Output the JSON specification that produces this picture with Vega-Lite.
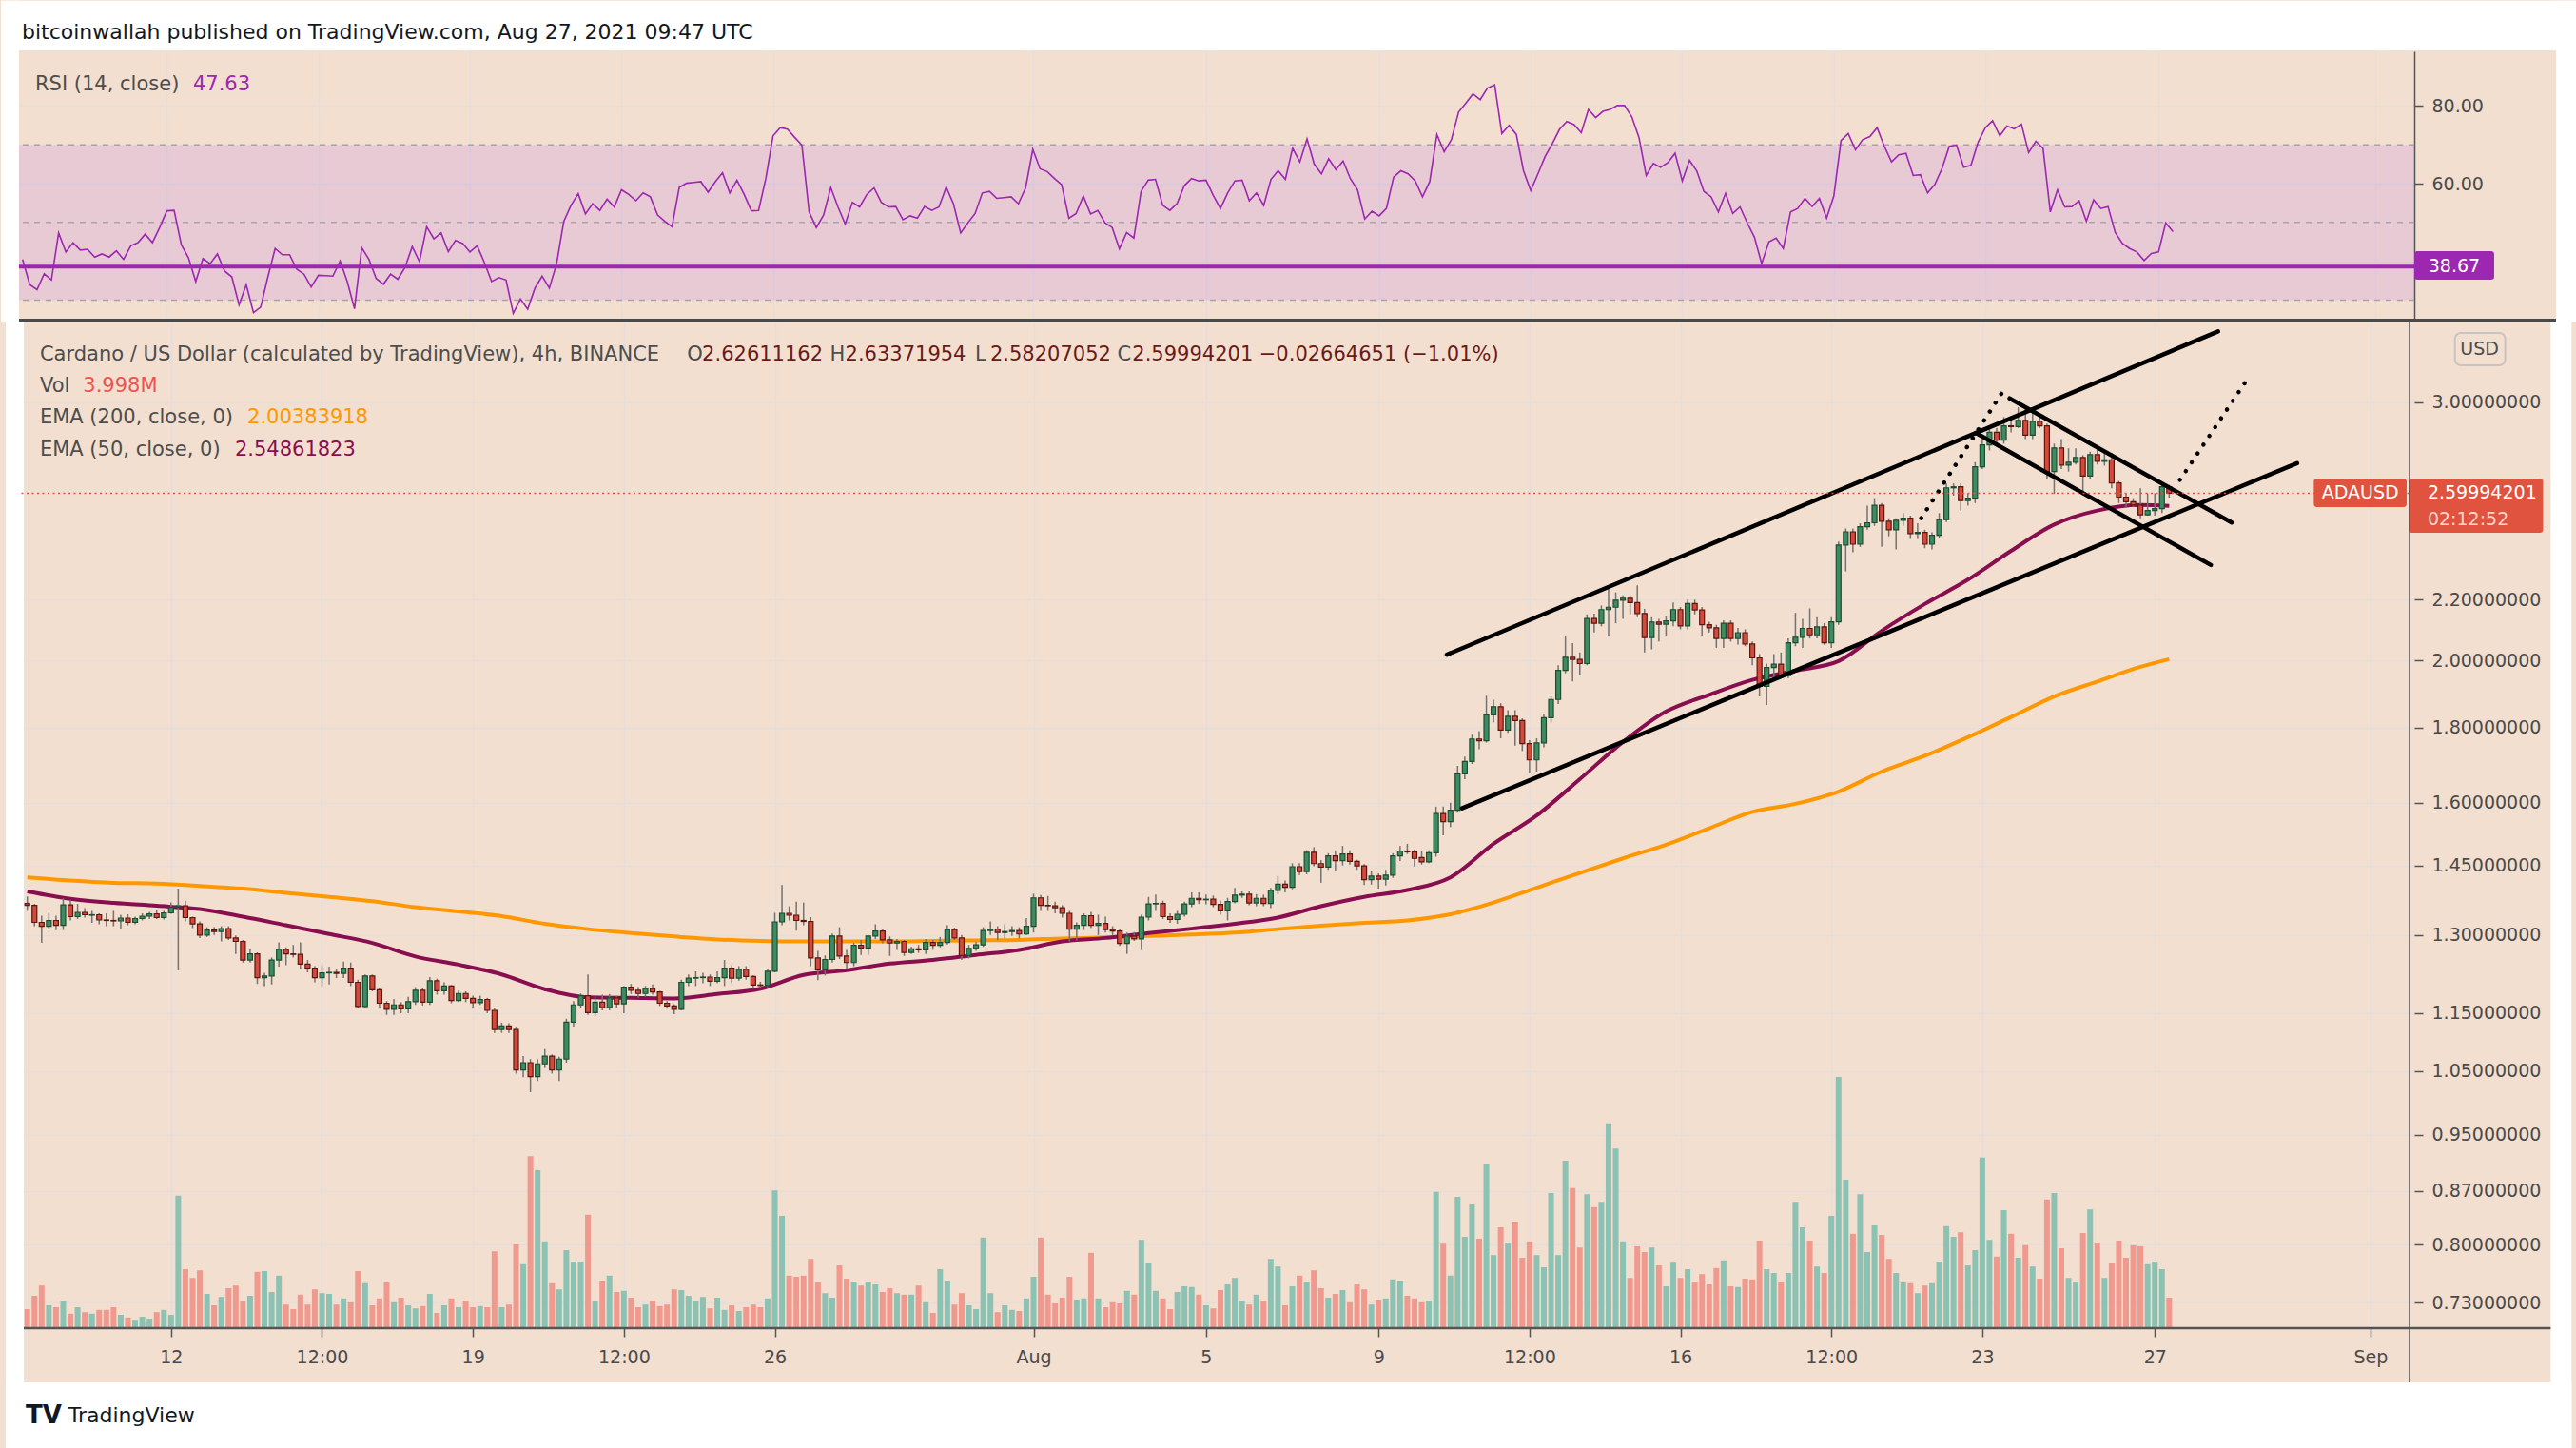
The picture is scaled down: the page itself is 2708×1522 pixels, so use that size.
{
"$schema":"https://vega.github.io/schema/vega-lite/v6.json",
"background":"#f2dfcf",
"padding":0,
"bounds":"flush",
"spacing":3,
"config":{
 "view":{"stroke":null},
 "font":"DejaVu Sans",
 "axis":{"labelFont":"DejaVu Sans","labelFontSize":19,"labelColor":"#4a4a4a","gridColor":"#e6ddda","gridWidth":1.5,"tickColor":"#555555","tickWidth":1.5,"tickSize":9,"domainColor":"#555555"},
 "text":{"font":"DejaVu Sans","fontSize":21,"baseline":"middle","align":"left","color":"#4d4d4d"}
},
"datasets":{
"k":[
{"i":4,"o":1.366,"h":1.381,"l":1.35,"c":1.362,"v":2.5,"r":40.5},
{"i":5,"o":1.362,"h":1.365,"l":1.318,"c":1.326,"v":4.25,"r":34.0},
{"i":6,"o":1.326,"h":1.34,"l":1.284,"c":1.318,"v":5.6,"r":32.7},
{"i":7,"o":1.318,"h":1.346,"l":1.312,"c":1.33,"v":3.0,"r":36.8},
{"i":8,"o":1.33,"h":1.34,"l":1.31,"c":1.32,"v":2.75,"r":35.2},
{"i":9,"o":1.32,"h":1.377,"l":1.31,"c":1.363,"v":3.6,"r":47.3},
{"i":10,"o":1.363,"h":1.372,"l":1.33,"c":1.338,"v":1.9,"r":42.4},
{"i":11,"o":1.338,"h":1.365,"l":1.333,"c":1.347,"v":2.75,"r":44.8},
{"i":12,"o":1.347,"h":1.356,"l":1.336,"c":1.342,"v":2.1,"r":42.9},
{"i":13,"o":1.341,"h":1.35,"l":1.325,"c":1.342,"v":1.9,"r":43.1},
{"i":14,"o":1.342,"h":1.345,"l":1.322,"c":1.331,"v":2.4,"r":41.1},
{"i":15,"o":1.331,"h":1.345,"l":1.318,"c":1.33,"v":2.4,"r":41.9},
{"i":16,"o":1.33,"h":1.35,"l":1.318,"c":1.329,"v":2.75,"r":41.1},
{"i":17,"o":1.329,"h":1.342,"l":1.313,"c":1.335,"v":1.75,"r":42.7},
{"i":18,"o":1.335,"h":1.343,"l":1.32,"c":1.326,"v":1.4,"r":40.5},
{"i":19,"o":1.326,"h":1.338,"l":1.322,"c":1.334,"v":1.1,"r":44.0},
{"i":20,"o":1.334,"h":1.345,"l":1.33,"c":1.339,"v":1.5,"r":44.8},
{"i":21,"o":1.339,"h":1.348,"l":1.333,"c":1.344,"v":1.25,"r":47.0},
{"i":22,"o":1.344,"h":1.353,"l":1.333,"c":1.336,"v":2.1,"r":44.8},
{"i":23,"o":1.336,"h":1.35,"l":1.332,"c":1.346,"v":2.4,"r":48.7},
{"i":24,"o":1.346,"h":1.368,"l":1.344,"c":1.358,"v":1.75,"r":53.0},
{"i":25,"o":1.358,"h":1.398,"l":1.23,"c":1.361,"v":17.4,"r":53.1},
{"i":26,"o":1.361,"h":1.372,"l":1.328,"c":1.336,"v":7.75,"r":44.3},
{"i":27,"o":1.336,"h":1.338,"l":1.314,"c":1.323,"v":6.6,"r":40.9},
{"i":28,"o":1.323,"h":1.328,"l":1.294,"c":1.3,"v":7.6,"r":34.8},
{"i":29,"o":1.3,"h":1.316,"l":1.296,"c":1.31,"v":4.5,"r":40.7},
{"i":30,"o":1.31,"h":1.316,"l":1.3,"c":1.307,"v":3.0,"r":39.4},
{"i":31,"o":1.307,"h":1.318,"l":1.287,"c":1.313,"v":4.1,"r":41.9},
{"i":32,"o":1.313,"h":1.318,"l":1.29,"c":1.294,"v":5.25,"r":37.5},
{"i":33,"o":1.294,"h":1.299,"l":1.262,"c":1.287,"v":5.6,"r":36.0},
{"i":34,"o":1.287,"h":1.29,"l":1.245,"c":1.25,"v":3.5,"r":28.8},
{"i":35,"o":1.25,"h":1.271,"l":1.245,"c":1.262,"v":4.25,"r":34.0},
{"i":36,"o":1.262,"h":1.265,"l":1.204,"c":1.216,"v":7.4,"r":26.8},
{"i":37,"o":1.216,"h":1.225,"l":1.2,"c":1.219,"v":7.5,"r":28.2},
{"i":38,"o":1.219,"h":1.255,"l":1.203,"c":1.25,"v":4.75,"r":36.0},
{"i":39,"o":1.25,"h":1.285,"l":1.237,"c":1.271,"v":6.9,"r":43.3},
{"i":40,"o":1.271,"h":1.275,"l":1.24,"c":1.262,"v":3.1,"r":41.7},
{"i":41,"o":1.262,"h":1.28,"l":1.255,"c":1.261,"v":2.5,"r":41.7},
{"i":42,"o":1.261,"h":1.285,"l":1.232,"c":1.242,"v":4.4,"r":38.0},
{"i":43,"o":1.242,"h":1.25,"l":1.226,"c":1.234,"v":3.1,"r":36.7},
{"i":44,"o":1.234,"h":1.238,"l":1.207,"c":1.216,"v":5.1,"r":33.4},
{"i":45,"o":1.216,"h":1.24,"l":1.2,"c":1.225,"v":4.6,"r":36.4},
{"i":46,"o":1.225,"h":1.237,"l":1.203,"c":1.226,"v":4.5,"r":36.3},
{"i":47,"o":1.226,"h":1.233,"l":1.215,"c":1.224,"v":3.1,"r":36.2},
{"i":48,"o":1.224,"h":1.247,"l":1.215,"c":1.234,"v":3.9,"r":40.1},
{"i":49,"o":1.234,"h":1.245,"l":1.2,"c":1.207,"v":3.4,"r":34.8},
{"i":50,"o":1.207,"h":1.212,"l":1.16,"c":1.162,"v":7.5,"r":27.8},
{"i":51,"o":1.162,"h":1.222,"l":1.16,"c":1.219,"v":5.9,"r":43.5},
{"i":52,"o":1.219,"h":1.222,"l":1.19,"c":1.193,"v":3.0,"r":40.5},
{"i":53,"o":1.193,"h":1.197,"l":1.16,"c":1.168,"v":3.9,"r":35.6},
{"i":54,"o":1.168,"h":1.172,"l":1.147,"c":1.157,"v":6.0,"r":34.1},
{"i":55,"o":1.157,"h":1.176,"l":1.147,"c":1.165,"v":3.4,"r":36.7},
{"i":56,"o":1.165,"h":1.17,"l":1.15,"c":1.158,"v":4.0,"r":35.4},
{"i":57,"o":1.158,"h":1.18,"l":1.15,"c":1.171,"v":3.0,"r":38.4},
{"i":58,"o":1.171,"h":1.198,"l":1.165,"c":1.192,"v":2.6,"r":43.8},
{"i":59,"o":1.192,"h":1.196,"l":1.164,"c":1.17,"v":2.9,"r":39.9},
{"i":60,"o":1.17,"h":1.217,"l":1.165,"c":1.21,"v":4.5,"r":48.9},
{"i":61,"o":1.21,"h":1.214,"l":1.184,"c":1.191,"v":2.0,"r":45.8},
{"i":62,"o":1.191,"h":1.207,"l":1.184,"c":1.2,"v":3.0,"r":47.3},
{"i":63,"o":1.2,"h":1.202,"l":1.168,"c":1.173,"v":3.9,"r":42.5},
{"i":64,"o":1.173,"h":1.192,"l":1.17,"c":1.186,"v":2.75,"r":45.4},
{"i":65,"o":1.186,"h":1.19,"l":1.17,"c":1.177,"v":3.6,"r":44.6},
{"i":66,"o":1.177,"h":1.182,"l":1.16,"c":1.169,"v":2.75,"r":42.4},
{"i":67,"o":1.169,"h":1.182,"l":1.165,"c":1.175,"v":2.9,"r":44.0},
{"i":68,"o":1.175,"h":1.178,"l":1.15,"c":1.155,"v":2.75,"r":39.7},
{"i":69,"o":1.155,"h":1.16,"l":1.115,"c":1.121,"v":10.1,"r":34.8},
{"i":70,"o":1.121,"h":1.133,"l":1.115,"c":1.127,"v":2.75,"r":35.8},
{"i":71,"o":1.127,"h":1.132,"l":1.115,"c":1.121,"v":3.1,"r":35.2},
{"i":72,"o":1.121,"h":1.124,"l":1.046,"c":1.052,"v":11.0,"r":26.6},
{"i":73,"o":1.052,"h":1.075,"l":1.04,"c":1.064,"v":8.4,"r":30.3},
{"i":74,"o":1.064,"h":1.07,"l":1.016,"c":1.041,"v":22.6,"r":27.7},
{"i":75,"o":1.041,"h":1.07,"l":1.034,"c":1.062,"v":20.75,"r":33.1},
{"i":76,"o":1.062,"h":1.087,"l":1.055,"c":1.075,"v":11.4,"r":36.2},
{"i":77,"o":1.075,"h":1.078,"l":1.046,"c":1.052,"v":5.9,"r":33.1},
{"i":78,"o":1.052,"h":1.074,"l":1.034,"c":1.07,"v":5.1,"r":39.3},
{"i":79,"o":1.07,"h":1.14,"l":1.064,"c":1.134,"v":10.25,"r":50.3},
{"i":80,"o":1.134,"h":1.172,"l":1.125,"c":1.165,"v":8.75,"r":54.4},
{"i":81,"o":1.165,"h":1.186,"l":1.16,"c":1.182,"v":8.75,"r":57.4},
{"i":82,"o":1.182,"h":1.222,"l":1.147,"c":1.151,"v":14.9,"r":52.2},
{"i":83,"o":1.151,"h":1.18,"l":1.145,"c":1.17,"v":3.5,"r":54.8},
{"i":84,"o":1.17,"h":1.184,"l":1.155,"c":1.16,"v":6.25,"r":53.1},
{"i":85,"o":1.16,"h":1.185,"l":1.155,"c":1.178,"v":6.9,"r":56.0},
{"i":86,"o":1.178,"h":1.182,"l":1.16,"c":1.167,"v":4.75,"r":54.0},
{"i":87,"o":1.167,"h":1.2,"l":1.15,"c":1.198,"v":4.9,"r":58.4},
{"i":88,"o":1.198,"h":1.204,"l":1.185,"c":1.192,"v":4.0,"r":57.2},
{"i":89,"o":1.192,"h":1.198,"l":1.178,"c":1.186,"v":2.75,"r":55.6},
{"i":90,"o":1.186,"h":1.2,"l":1.18,"c":1.195,"v":3.1,"r":57.6},
{"i":91,"o":1.195,"h":1.203,"l":1.184,"c":1.189,"v":3.6,"r":56.6},
{"i":92,"o":1.189,"h":1.191,"l":1.163,"c":1.168,"v":2.9,"r":51.9},
{"i":93,"o":1.168,"h":1.172,"l":1.158,"c":1.163,"v":3.1,"r":50.3},
{"i":94,"o":1.163,"h":1.166,"l":1.148,"c":1.157,"v":5.1,"r":48.9},
{"i":95,"o":1.157,"h":1.212,"l":1.155,"c":1.207,"v":5.0,"r":59.0},
{"i":96,"o":1.207,"h":1.222,"l":1.2,"c":1.215,"v":4.25,"r":60.1},
{"i":97,"o":1.215,"h":1.228,"l":1.2,"c":1.216,"v":3.5,"r":60.3},
{"i":98,"o":1.216,"h":1.225,"l":1.205,"c":1.217,"v":4.1,"r":60.5},
{"i":99,"o":1.217,"h":1.222,"l":1.2,"c":1.209,"v":2.6,"r":57.8},
{"i":100,"o":1.209,"h":1.228,"l":1.205,"c":1.216,"v":4.0,"r":60.5},
{"i":101,"o":1.216,"h":1.25,"l":1.2,"c":1.234,"v":2.4,"r":62.8},
{"i":102,"o":1.234,"h":1.24,"l":1.205,"c":1.215,"v":3.0,"r":57.6},
{"i":103,"o":1.215,"h":1.238,"l":1.21,"c":1.232,"v":2.25,"r":60.9},
{"i":104,"o":1.232,"h":1.238,"l":1.212,"c":1.218,"v":2.75,"r":57.2},
{"i":105,"o":1.218,"h":1.22,"l":1.195,"c":1.202,"v":3.1,"r":53.0},
{"i":106,"o":1.202,"h":1.208,"l":1.196,"c":1.201,"v":2.75,"r":53.1},
{"i":107,"o":1.201,"h":1.232,"l":1.198,"c":1.228,"v":3.9,"r":61.3},
{"i":108,"o":1.228,"h":1.346,"l":1.226,"c":1.327,"v":18.1,"r":72.3},
{"i":109,"o":1.327,"h":1.406,"l":1.32,"c":1.345,"v":14.75,"r":74.4},
{"i":110,"o":1.345,"h":1.36,"l":1.33,"c":1.341,"v":6.9,"r":74.0},
{"i":111,"o":1.341,"h":1.37,"l":1.309,"c":1.33,"v":6.75,"r":71.9},
{"i":112,"o":1.33,"h":1.368,"l":1.32,"c":1.328,"v":6.9,"r":69.9},
{"i":113,"o":1.328,"h":1.337,"l":1.238,"c":1.254,"v":9.1,"r":52.7},
{"i":114,"o":1.254,"h":1.268,"l":1.211,"c":1.231,"v":6.0,"r":48.7},
{"i":115,"o":1.231,"h":1.259,"l":1.22,"c":1.251,"v":4.6,"r":51.9},
{"i":116,"o":1.251,"h":1.303,"l":1.245,"c":1.298,"v":4.0,"r":59.0},
{"i":117,"o":1.298,"h":1.316,"l":1.252,"c":1.258,"v":8.25,"r":54.0},
{"i":118,"o":1.258,"h":1.27,"l":1.232,"c":1.245,"v":6.5,"r":49.6},
{"i":119,"o":1.245,"h":1.284,"l":1.238,"c":1.279,"v":6.1,"r":55.2},
{"i":120,"o":1.279,"h":1.29,"l":1.26,"c":1.274,"v":5.6,"r":54.0},
{"i":121,"o":1.274,"h":1.3,"l":1.26,"c":1.298,"v":6.1,"r":57.2},
{"i":122,"o":1.298,"h":1.322,"l":1.292,"c":1.308,"v":5.75,"r":58.9},
{"i":123,"o":1.308,"h":1.312,"l":1.283,"c":1.29,"v":4.75,"r":55.2},
{"i":124,"o":1.29,"h":1.297,"l":1.258,"c":1.284,"v":5.25,"r":54.0},
{"i":125,"o":1.284,"h":1.292,"l":1.27,"c":1.287,"v":4.6,"r":54.1},
{"i":126,"o":1.287,"h":1.29,"l":1.258,"c":1.265,"v":4.4,"r":50.7},
{"i":127,"o":1.265,"h":1.276,"l":1.262,"c":1.272,"v":4.4,"r":51.7},
{"i":128,"o":1.272,"h":1.28,"l":1.264,"c":1.27,"v":5.6,"r":51.1},
{"i":129,"o":1.27,"h":1.292,"l":1.262,"c":1.285,"v":3.4,"r":54.1},
{"i":130,"o":1.285,"h":1.29,"l":1.27,"c":1.279,"v":2.0,"r":53.1},
{"i":131,"o":1.279,"h":1.296,"l":1.275,"c":1.285,"v":7.75,"r":54.0},
{"i":132,"o":1.285,"h":1.32,"l":1.281,"c":1.311,"v":6.25,"r":59.1},
{"i":133,"o":1.311,"h":1.315,"l":1.29,"c":1.294,"v":3.1,"r":54.8},
{"i":134,"o":1.294,"h":1.3,"l":1.25,"c":1.259,"v":4.6,"r":47.3},
{"i":135,"o":1.259,"h":1.28,"l":1.253,"c":1.273,"v":3.0,"r":49.9},
{"i":136,"o":1.273,"h":1.286,"l":1.268,"c":1.28,"v":2.5,"r":52.3},
{"i":137,"o":1.28,"h":1.316,"l":1.276,"c":1.309,"v":11.9,"r":57.6},
{"i":138,"o":1.309,"h":1.328,"l":1.3,"c":1.312,"v":4.6,"r":58.0},
{"i":139,"o":1.312,"h":1.318,"l":1.29,"c":1.305,"v":2.1,"r":56.2},
{"i":140,"o":1.305,"h":1.322,"l":1.293,"c":1.307,"v":3.0,"r":56.4},
{"i":141,"o":1.307,"h":1.318,"l":1.298,"c":1.309,"v":2.4,"r":56.6},
{"i":142,"o":1.309,"h":1.316,"l":1.293,"c":1.302,"v":2.25,"r":54.8},
{"i":143,"o":1.302,"h":1.335,"l":1.3,"c":1.318,"v":3.9,"r":58.9},
{"i":144,"o":1.318,"h":1.387,"l":1.305,"c":1.378,"v":6.75,"r":68.8},
{"i":145,"o":1.378,"h":1.384,"l":1.35,"c":1.362,"v":11.9,"r":63.8},
{"i":146,"o":1.362,"h":1.382,"l":1.35,"c":1.361,"v":4.4,"r":63.1},
{"i":147,"o":1.361,"h":1.37,"l":1.345,"c":1.357,"v":3.25,"r":61.3},
{"i":148,"o":1.357,"h":1.362,"l":1.336,"c":1.345,"v":4.0,"r":59.7},
{"i":149,"o":1.345,"h":1.35,"l":1.287,"c":1.312,"v":6.75,"r":51.1},
{"i":150,"o":1.312,"h":1.326,"l":1.289,"c":1.32,"v":3.75,"r":52.3},
{"i":151,"o":1.32,"h":1.345,"l":1.31,"c":1.34,"v":3.9,"r":56.8},
{"i":152,"o":1.34,"h":1.348,"l":1.314,"c":1.32,"v":9.9,"r":52.2},
{"i":153,"o":1.32,"h":1.342,"l":1.3,"c":1.324,"v":3.9,"r":53.1},
{"i":154,"o":1.324,"h":1.338,"l":1.305,"c":1.311,"v":2.75,"r":49.9},
{"i":155,"o":1.311,"h":1.318,"l":1.3,"c":1.308,"v":3.4,"r":48.7},
{"i":156,"o":1.308,"h":1.312,"l":1.278,"c":1.283,"v":3.25,"r":43.2},
{"i":157,"o":1.283,"h":1.305,"l":1.262,"c":1.298,"v":4.9,"r":47.4},
{"i":158,"o":1.298,"h":1.306,"l":1.288,"c":1.292,"v":4.4,"r":46.0},
{"i":159,"o":1.292,"h":1.342,"l":1.27,"c":1.337,"v":11.6,"r":58.0},
{"i":160,"o":1.337,"h":1.38,"l":1.33,"c":1.365,"v":8.5,"r":60.9},
{"i":161,"o":1.365,"h":1.385,"l":1.35,"c":1.366,"v":4.9,"r":61.1},
{"i":162,"o":1.366,"h":1.372,"l":1.333,"c":1.338,"v":3.9,"r":54.4},
{"i":163,"o":1.338,"h":1.345,"l":1.325,"c":1.332,"v":2.5,"r":53.1},
{"i":164,"o":1.332,"h":1.35,"l":1.323,"c":1.343,"v":4.75,"r":54.9},
{"i":165,"o":1.343,"h":1.37,"l":1.338,"c":1.365,"v":5.5,"r":59.5},
{"i":166,"o":1.365,"h":1.39,"l":1.358,"c":1.377,"v":5.4,"r":61.3},
{"i":167,"o":1.377,"h":1.39,"l":1.365,"c":1.374,"v":4.4,"r":60.7},
{"i":168,"o":1.374,"h":1.385,"l":1.364,"c":1.375,"v":3.0,"r":60.9},
{"i":169,"o":1.375,"h":1.383,"l":1.358,"c":1.364,"v":2.6,"r":57.0},
{"i":170,"o":1.364,"h":1.372,"l":1.342,"c":1.35,"v":5.0,"r":53.6},
{"i":171,"o":1.35,"h":1.378,"l":1.33,"c":1.37,"v":5.75,"r":57.6},
{"i":172,"o":1.37,"h":1.4,"l":1.366,"c":1.384,"v":6.6,"r":60.7},
{"i":173,"o":1.384,"h":1.392,"l":1.378,"c":1.386,"v":3.6,"r":60.9},
{"i":174,"o":1.386,"h":1.392,"l":1.362,"c":1.367,"v":3.1,"r":55.6},
{"i":175,"o":1.367,"h":1.386,"l":1.36,"c":1.377,"v":4.4,"r":57.6},
{"i":176,"o":1.377,"h":1.385,"l":1.36,"c":1.366,"v":3.6,"r":54.4},
{"i":177,"o":1.366,"h":1.4,"l":1.356,"c":1.394,"v":9.1,"r":61.1},
{"i":178,"o":1.394,"h":1.426,"l":1.386,"c":1.408,"v":8.1,"r":63.3},
{"i":179,"o":1.408,"h":1.416,"l":1.39,"c":1.401,"v":3.0,"r":61.1},
{"i":180,"o":1.401,"h":1.455,"l":1.397,"c":1.447,"v":5.5,"r":69.1},
{"i":181,"o":1.447,"h":1.455,"l":1.428,"c":1.436,"v":6.9,"r":65.6},
{"i":182,"o":1.436,"h":1.485,"l":1.43,"c":1.48,"v":6.1,"r":71.5},
{"i":183,"o":1.48,"h":1.492,"l":1.448,"c":1.454,"v":7.6,"r":65.0},
{"i":184,"o":1.454,"h":1.462,"l":1.411,"c":1.446,"v":5.25,"r":62.5},
{"i":185,"o":1.446,"h":1.478,"l":1.44,"c":1.472,"v":4.0,"r":66.4},
{"i":186,"o":1.472,"h":1.485,"l":1.438,"c":1.461,"v":4.5,"r":63.6},
{"i":187,"o":1.461,"h":1.495,"l":1.45,"c":1.476,"v":5.0,"r":65.8},
{"i":188,"o":1.476,"h":1.485,"l":1.452,"c":1.459,"v":3.4,"r":61.3},
{"i":189,"o":1.459,"h":1.463,"l":1.44,"c":1.449,"v":5.75,"r":58.4},
{"i":190,"o":1.449,"h":1.453,"l":1.406,"c":1.418,"v":5.1,"r":50.9},
{"i":191,"o":1.418,"h":1.438,"l":1.407,"c":1.426,"v":3.1,"r":52.9},
{"i":192,"o":1.426,"h":1.432,"l":1.398,"c":1.419,"v":3.75,"r":51.7},
{"i":193,"o":1.419,"h":1.44,"l":1.405,"c":1.428,"v":3.9,"r":53.6},
{"i":194,"o":1.428,"h":1.478,"l":1.422,"c":1.472,"v":6.4,"r":61.7},
{"i":195,"o":1.472,"h":1.495,"l":1.46,"c":1.483,"v":6.25,"r":63.3},
{"i":196,"o":1.483,"h":1.5,"l":1.476,"c":1.481,"v":4.25,"r":62.5},
{"i":197,"o":1.481,"h":1.487,"l":1.447,"c":1.466,"v":3.9,"r":60.7},
{"i":198,"o":1.468,"h":1.482,"l":1.452,"c":1.458,"v":3.4,"r":56.6},
{"i":199,"o":1.458,"h":1.485,"l":1.455,"c":1.479,"v":3.6,"r":60.5},
{"i":200,"o":1.479,"h":1.59,"l":1.47,"c":1.573,"v":17.9,"r":72.6},
{"i":201,"o":1.573,"h":1.59,"l":1.52,"c":1.553,"v":11.1,"r":68.2},
{"i":202,"o":1.553,"h":1.6,"l":1.54,"c":1.581,"v":6.9,"r":71.3},
{"i":203,"o":1.581,"h":1.695,"l":1.575,"c":1.674,"v":17.25,"r":78.4},
{"i":204,"o":1.674,"h":1.72,"l":1.66,"c":1.707,"v":12.0,"r":80.7},
{"i":205,"o":1.707,"h":1.78,"l":1.7,"c":1.768,"v":16.25,"r":83.1},
{"i":206,"o":1.768,"h":1.79,"l":1.74,"c":1.763,"v":11.75,"r":81.6},
{"i":207,"o":1.763,"h":1.892,"l":1.758,"c":1.836,"v":21.5,"r":84.6},
{"i":208,"o":1.836,"h":1.88,"l":1.815,"c":1.86,"v":9.6,"r":85.4},
{"i":209,"o":1.86,"h":1.87,"l":1.77,"c":1.793,"v":13.25,"r":72.9},
{"i":210,"o":1.793,"h":1.85,"l":1.785,"c":1.832,"v":11.25,"r":75.0},
{"i":211,"o":1.832,"h":1.85,"l":1.75,"c":1.82,"v":14.0,"r":72.7},
{"i":212,"o":1.82,"h":1.826,"l":1.735,"c":1.755,"v":9.25,"r":63.3},
{"i":213,"o":1.755,"h":1.765,"l":1.676,"c":1.711,"v":11.4,"r":58.2},
{"i":214,"o":1.711,"h":1.77,"l":1.68,"c":1.757,"v":9.6,"r":62.5},
{"i":215,"o":1.757,"h":1.84,"l":1.745,"c":1.828,"v":8.0,"r":67.0},
{"i":216,"o":1.828,"h":1.89,"l":1.815,"c":1.881,"v":17.75,"r":70.3},
{"i":217,"o":1.881,"h":1.985,"l":1.868,"c":1.969,"v":9.6,"r":74.0},
{"i":218,"o":1.969,"h":2.08,"l":1.96,"c":2.01,"v":22.0,"r":76.0},
{"i":219,"o":2.01,"h":2.055,"l":1.935,"c":2.003,"v":18.4,"r":75.2},
{"i":220,"o":2.003,"h":2.025,"l":1.955,"c":1.99,"v":10.6,"r":73.1},
{"i":221,"o":1.99,"h":2.15,"l":1.985,"c":2.136,"v":17.6,"r":79.1},
{"i":222,"o":2.136,"h":2.152,"l":2.09,"c":2.12,"v":15.9,"r":77.0},
{"i":223,"o":2.12,"h":2.18,"l":2.11,"c":2.166,"v":16.6,"r":78.6},
{"i":224,"o":2.166,"h":2.25,"l":2.08,"c":2.174,"v":26.9,"r":79.1},
{"i":225,"o":2.174,"h":2.225,"l":2.12,"c":2.198,"v":23.6,"r":80.1},
{"i":226,"o":2.198,"h":2.215,"l":2.135,"c":2.205,"v":11.4,"r":80.1},
{"i":227,"o":2.205,"h":2.215,"l":2.15,"c":2.19,"v":6.6,"r":77.2},
{"i":228,"o":2.19,"h":2.25,"l":2.14,"c":2.153,"v":10.75,"r":71.9},
{"i":229,"o":2.153,"h":2.168,"l":2.025,"c":2.073,"v":10.0,"r":62.1},
{"i":230,"o":2.073,"h":2.14,"l":2.035,"c":2.124,"v":10.6,"r":65.2},
{"i":231,"o":2.124,"h":2.135,"l":2.06,"c":2.117,"v":8.25,"r":64.2},
{"i":232,"o":2.117,"h":2.145,"l":2.08,"c":2.128,"v":5.5,"r":65.4},
{"i":233,"o":2.128,"h":2.19,"l":2.11,"c":2.166,"v":8.6,"r":67.8},
{"i":234,"o":2.166,"h":2.175,"l":2.1,"c":2.111,"v":6.6,"r":60.7},
{"i":235,"o":2.111,"h":2.2,"l":2.1,"c":2.187,"v":7.75,"r":66.0},
{"i":236,"o":2.187,"h":2.2,"l":2.15,"c":2.165,"v":6.1,"r":63.3},
{"i":237,"o":2.165,"h":2.175,"l":2.08,"c":2.115,"v":7.1,"r":58.0},
{"i":238,"o":2.115,"h":2.125,"l":2.09,"c":2.105,"v":5.75,"r":56.6},
{"i":239,"o":2.105,"h":2.115,"l":2.04,"c":2.07,"v":7.9,"r":52.7},
{"i":240,"o":2.07,"h":2.13,"l":2.04,"c":2.12,"v":8.9,"r":57.5},
{"i":241,"o":2.12,"h":2.13,"l":2.06,"c":2.07,"v":5.5,"r":52.3},
{"i":242,"o":2.07,"h":2.105,"l":2.05,"c":2.089,"v":5.4,"r":54.0},
{"i":243,"o":2.089,"h":2.1,"l":2.045,"c":2.052,"v":6.5,"r":49.9},
{"i":244,"o":2.052,"h":2.06,"l":1.985,"c":2.008,"v":6.4,"r":46.2},
{"i":245,"o":2.008,"h":2.02,"l":1.89,"c":1.92,"v":11.5,"r":39.4},
{"i":246,"o":1.92,"h":1.99,"l":1.865,"c":1.978,"v":7.75,"r":45.0},
{"i":247,"o":1.978,"h":2.02,"l":1.95,"c":1.988,"v":7.25,"r":46.0},
{"i":248,"o":1.988,"h":2.025,"l":1.945,"c":1.953,"v":6.1,"r":43.3},
{"i":249,"o":1.953,"h":2.07,"l":1.945,"c":2.056,"v":7.25,"r":52.7},
{"i":250,"o":2.056,"h":2.155,"l":2.045,"c":2.074,"v":16.6,"r":53.6},
{"i":251,"o":2.074,"h":2.135,"l":2.04,"c":2.103,"v":13.25,"r":56.2},
{"i":252,"o":2.103,"h":2.17,"l":2.07,"c":2.082,"v":11.5,"r":54.1},
{"i":253,"o":2.082,"h":2.14,"l":2.07,"c":2.108,"v":8.1,"r":56.2},
{"i":254,"o":2.108,"h":2.12,"l":2.05,"c":2.056,"v":7.25,"r":51.1},
{"i":255,"o":2.056,"h":2.14,"l":2.04,"c":2.125,"v":14.75,"r":56.8},
{"i":256,"o":2.125,"h":2.41,"l":2.115,"c":2.397,"v":33.0,"r":71.1},
{"i":257,"o":2.397,"h":2.46,"l":2.3,"c":2.447,"v":19.5,"r":72.9},
{"i":258,"o":2.447,"h":2.46,"l":2.37,"c":2.4,"v":12.4,"r":68.7},
{"i":259,"o":2.4,"h":2.48,"l":2.39,"c":2.467,"v":17.6,"r":71.3},
{"i":260,"o":2.467,"h":2.55,"l":2.455,"c":2.482,"v":10.0,"r":72.1},
{"i":261,"o":2.482,"h":2.58,"l":2.47,"c":2.551,"v":13.5,"r":74.4},
{"i":262,"o":2.551,"h":2.56,"l":2.39,"c":2.488,"v":12.25,"r":69.6},
{"i":263,"o":2.488,"h":2.5,"l":2.43,"c":2.455,"v":9.1,"r":65.6},
{"i":264,"o":2.455,"h":2.5,"l":2.38,"c":2.492,"v":7.25,"r":67.4},
{"i":265,"o":2.492,"h":2.52,"l":2.47,"c":2.5,"v":6.0,"r":67.8},
{"i":266,"o":2.5,"h":2.51,"l":2.42,"c":2.44,"v":5.9,"r":62.1},
{"i":267,"o":2.44,"h":2.48,"l":2.42,"c":2.445,"v":4.6,"r":62.3},
{"i":268,"o":2.445,"h":2.455,"l":2.385,"c":2.4,"v":5.6,"r":57.6},
{"i":269,"o":2.4,"h":2.445,"l":2.38,"c":2.434,"v":5.9,"r":59.8},
{"i":270,"o":2.434,"h":2.52,"l":2.425,"c":2.494,"v":8.75,"r":63.9},
{"i":271,"o":2.494,"h":2.64,"l":2.485,"c":2.622,"v":13.4,"r":69.6},
{"i":272,"o":2.622,"h":2.64,"l":2.59,"c":2.626,"v":12.0,"r":69.9},
{"i":273,"o":2.626,"h":2.64,"l":2.53,"c":2.57,"v":12.6,"r":64.2},
{"i":274,"o":2.57,"h":2.6,"l":2.55,"c":2.58,"v":8.25,"r":64.7},
{"i":275,"o":2.58,"h":2.73,"l":2.56,"c":2.71,"v":10.25,"r":70.7},
{"i":276,"o":2.71,"h":2.83,"l":2.7,"c":2.805,"v":22.4,"r":74.4},
{"i":277,"o":2.805,"h":2.88,"l":2.78,"c":2.861,"v":11.6,"r":76.2},
{"i":278,"o":2.861,"h":2.88,"l":2.8,"c":2.826,"v":9.4,"r":72.3},
{"i":279,"o":2.826,"h":2.93,"l":2.81,"c":2.89,"v":15.5,"r":74.8},
{"i":280,"o":2.89,"h":2.935,"l":2.86,"c":2.886,"v":12.4,"r":74.1},
{"i":281,"o":2.886,"h":2.975,"l":2.88,"c":2.915,"v":9.25,"r":75.3},
{"i":282,"o":2.915,"h":2.97,"l":2.83,"c":2.848,"v":10.9,"r":68.0},
{"i":283,"o":2.848,"h":2.95,"l":2.83,"c":2.91,"v":8.1,"r":70.9},
{"i":284,"o":2.91,"h":2.94,"l":2.88,"c":2.89,"v":6.5,"r":69.1},
{"i":285,"o":2.89,"h":2.9,"l":2.66,"c":2.69,"v":16.9,"r":52.7},
{"i":286,"o":2.69,"h":2.81,"l":2.597,"c":2.791,"v":17.75,"r":58.4},
{"i":287,"o":2.791,"h":2.83,"l":2.7,"c":2.717,"v":10.5,"r":54.0},
{"i":288,"o":2.717,"h":2.79,"l":2.69,"c":2.729,"v":6.6,"r":54.1},
{"i":289,"o":2.729,"h":2.79,"l":2.72,"c":2.75,"v":6.1,"r":55.6},
{"i":290,"o":2.75,"h":2.76,"l":2.6,"c":2.671,"v":12.5,"r":50.3},
{"i":291,"o":2.671,"h":2.775,"l":2.66,"c":2.762,"v":15.6,"r":55.8},
{"i":292,"o":2.762,"h":2.79,"l":2.72,"c":2.733,"v":11.25,"r":53.6},
{"i":293,"o":2.733,"h":2.77,"l":2.715,"c":2.74,"v":6.6,"r":54.1},
{"i":294,"o":2.74,"h":2.77,"l":2.62,"c":2.642,"v":8.5,"r":47.4},
{"i":295,"o":2.642,"h":2.65,"l":2.56,"c":2.584,"v":11.5,"r":44.6},
{"i":296,"o":2.584,"h":2.6,"l":2.54,"c":2.565,"v":9.25,"r":43.3},
{"i":297,"o":2.565,"h":2.58,"l":2.545,"c":2.552,"v":10.9,"r":42.4},
{"i":298,"o":2.552,"h":2.62,"l":2.5,"c":2.513,"v":10.75,"r":40.2},
{"i":299,"o":2.513,"h":2.6,"l":2.51,"c":2.53,"v":8.4,"r":42.0},
{"i":300,"o":2.53,"h":2.6,"l":2.51,"c":2.538,"v":8.75,"r":42.4},
{"i":301,"o":2.538,"h":2.636,"l":2.52,"c":2.626,"v":7.75,"r":49.9},
{"i":302,"o":2.626,"h":2.634,"l":2.582,"c":2.6,"v":4.0,"r":47.63}
],
"ema":[
{"i":4,"e200":1.423,"e50":1.392},{"i":10,"e200":1.416,"e50":1.376},{"i":16,"e200":1.411,"e50":1.367},{"i":22,"e200":1.409,"e50":1.361},
{"i":28,"e200":1.404,"e50":1.354},{"i":34,"e200":1.398,"e50":1.338},{"i":40,"e200":1.389,"e50":1.32},{"i":46,"e200":1.38,"e50":1.302},
{"i":52,"e200":1.371,"e50":1.284},{"i":58,"e200":1.358,"e50":1.257},{"i":64,"e200":1.349,"e50":1.241},{"i":70,"e200":1.339,"e50":1.222},
{"i":76,"e200":1.323,"e50":1.194},{"i":82,"e200":1.312,"e50":1.179},{"i":88,"e200":1.304,"e50":1.178},{"i":94,"e200":1.297,"e50":1.177},
{"i":100,"e200":1.291,"e50":1.185},{"i":106,"e200":1.288,"e50":1.195},{"i":112,"e200":1.287,"e50":1.221},{"i":118,"e200":1.287,"e50":1.23},
{"i":124,"e200":1.287,"e50":1.243},{"i":130,"e200":1.288,"e50":1.25},{"i":136,"e200":1.289,"e50":1.26},{"i":142,"e200":1.29,"e50":1.27},
{"i":148,"e200":1.293,"e50":1.287},{"i":154,"e200":1.295,"e50":1.294},{"i":160,"e200":1.298,"e50":1.304},{"i":166,"e200":1.301,"e50":1.313},
{"i":172,"e200":1.305,"e50":1.323},{"i":178,"e200":1.312,"e50":1.336},{"i":184,"e200":1.319,"e50":1.36},{"i":190,"e200":1.325,"e50":1.38},
{"i":196,"e200":1.33,"e50":1.395},{"i":202,"e200":1.343,"e50":1.423},{"i":208,"e200":1.368,"e50":1.5},{"i":214,"e200":1.4,"e50":1.568},
{"i":220,"e200":1.433,"e50":1.66},{"i":226,"e200":1.466,"e50":1.76},{"i":232,"e200":1.498,"e50":1.846},{"i":238,"e200":1.537,"e50":1.895},
{"i":244,"e200":1.577,"e50":1.94},{"i":250,"e200":1.597,"e50":1.968},{"i":256,"e200":1.628,"e50":1.998},{"i":262,"e200":1.68,"e50":2.095},
{"i":268,"e200":1.722,"e50":2.185},{"i":274,"e200":1.773,"e50":2.27},{"i":280,"e200":1.83,"e50":2.375},{"i":286,"e200":1.89,"e50":2.475},
{"i":292,"e200":1.935,"e50":2.53},{"i":298,"e200":1.98,"e50":2.552},{"i":302,"e200":2.004,"e50":2.549}
],
"tl":[
{"g":"a","i":201.5,"p":2.018},{"g":"a","i":308.8,"p":3.351},
{"g":"b","i":203.6,"p":1.586},{"g":"b","i":319.8,"p":2.725},
{"g":"c","i":279.8,"p":3.017},{"g":"c","i":310.7,"p":2.483},
{"g":"d","i":275.1,"p":2.858},{"g":"d","i":307.8,"p":2.323}
],
"dl":[
{"g":"e","i":267.5,"p":2.5},{"g":"e","i":278.8,"p":3.047},
{"g":"f","i":303.5,"p":2.655},{"g":"f","i":312.6,"p":3.095}
]
},
"vconcat":[
{
"width":2518,"height":281,
"layer":[
 {"data":{"values":[{}]},
  "layer":[
   {"mark":{"type":"rect","color":"#ffffff"},"encoding":{"x":{"datum":1.005},"x2":{"datum":357.98},"y":{"datum":107.05},"y2":{"datum":94.27}}},
   {"mark":{"type":"rect","color":"#ffffff"},"encoding":{"x":{"datum":1.005},"x2":{"datum":3.51},"y":{"datum":107.05},"y2":{"datum":24.5}}},
   {"mark":{"type":"rect","color":"#ffffff"},"encoding":{"x":{"datum":355.08},"x2":{"datum":357.98},"y":{"datum":107.05},"y2":{"datum":24.5}}},
   {"mark":{"type":"text","text":"bitcoinwallah published on TradingView.com, Aug 27, 2021 09:47 UTC","fontSize":22,"color":"#131722"},"encoding":{"x":{"datum":3.905},"y":{"datum":98.9}}},
   {"mark":{"type":"rect","color":"#9628ff","opacity":0.11},"encoding":{"x":{"datum":3.51},"x2":{"datum":335.44},"y":{"datum":70},"y2":{"datum":30}}}
  ]},
 {"data":{"values":[{"lv":70},{"lv":50},{"lv":30}]},
  "mark":{"type":"rule","color":"#aaa3ab","strokeWidth":1.5,"strokeDash":[6,6]},
  "encoding":{"y":{"field":"lv","type":"quantitative","title":null}}},
 {"data":{"name":"k"},
  "mark":{"type":"line","color":"#9c27b0","strokeWidth":1.6},
  "encoding":{
   "x":{"field":"i","type":"quantitative","scale":{"domain":[3.51,335.44],"nice":false,"zero":false},"title":null,
        "axis":{"values":[24,45,66,87,108,144,168,192,213,234,255,276,300,330],"labels":false,"ticks":false,"domain":false,"grid":true}},
   "y":{"field":"r","type":"quantitative","scale":{"domain":[25.24,94.03],"nice":false,"zero":false},"title":null,
        "axis":{"orient":"right","values":[40,60,80],"format":".2f","grid":true,"domain":true,"domainWidth":1.5,"tickSize":9,"labelPadding":9,"labelFlush":false,"labelOverlap":false}}}},
 {"data":{"values":[{}]},
  "layer":[
   {"mark":{"type":"rule","color":"#9c27b0","strokeWidth":4},"encoding":{"y":{"datum":38.67}}},
   {"mark":{"type":"rect","color":"#9c27b0","cornerRadius":3},"encoding":{"x":{"datum":335.44},"x2":{"datum":346.51},"y":{"datum":42.62},"y2":{"datum":35.28}}},
   {"mark":{"type":"text","text":"38.67","fontSize":19,"color":"#ffffff","align":"center"},"encoding":{"x":{"datum":340.97},"y":{"datum":38.67}}},
   {"mark":{"type":"text","text":"RSI (14, close)"},"encoding":{"x":{"datum":5.751},"y":{"datum":85.46}}},
   {"mark":{"type":"text","text":"47.63","color":"#9c27b0"},"encoding":{"x":{"datum":27.63},"y":{"datum":85.46}}},
   {"mark":{"type":"rule","color":"#4a4a4a","strokeWidth":3},"encoding":{"x":{"datum":3.51},"x2":{"datum":355.08},"y":{"datum":24.87}}}
  ]}
]
},
{
"width":2518,"height":1058,
"resolve":{"scale":{"y":"independent"}},
"layer":[
 {"data":{"name":"k"},
  "mark":{"type":"bar","orient":"vertical","size":6},
  "encoding":{
   "x":{"field":"i","type":"quantitative","scale":{"domain":[3.51,335.44],"nice":false,"zero":false},"title":null},
   "y":{"field":"v","type":"quantitative","scale":{"domain":[0,132.25],"nice":false},"axis":null,"stack":null},
   "color":{"condition":{"test":"datum.c >= datum.o","value":"#8cc2b4"},"value":"#f0998f"}}},
 {"layer":[
  {"data":{"name":"ema"},
   "mark":{"type":"line","color":"#ff9800","strokeWidth":4,"interpolate":"monotone"},
   "encoding":{
    "x":{"field":"i","type":"quantitative","scale":{"domain":[3.51,335.44],"nice":false,"zero":false},"title":null,
         "axis":{"values":[24,45,66,87,108,144,168,192,213,234,255,276,300,330],
                 "labelExpr":"['12','12:00','19','12:00','26','Aug','5','9','12:00','16','12:00','23','27','Sep'][indexof([24,45,66,87,108,144,168,192,213,234,255,276,300,330], datum.value)]",
                 "grid":true,"domain":false,"tickSize":9,"labelPadding":12,"labelFlush":false,"labelOverlap":false}},
    "y":{"field":"e200","type":"quantitative","scale":{"type":"log","domain":[0.7016,3.4033],"nice":false},"title":null,
         "axis":{"orient":"right","values":[0.73,0.8,0.87,0.95,1.05,1.15,1.3,1.45,1.6,1.8,2,2.2,3],"format":".8f","grid":true,"domain":false,"tickSize":9,"labelPadding":9,"labelFlush":false,"labelOverlap":false}}}},
  {"data":{"name":"ema"},
   "mark":{"type":"line","color":"#880e4f","strokeWidth":4,"interpolate":"monotone"},
   "encoding":{"x":{"field":"i","type":"quantitative","title":null},"y":{"field":"e50","type":"quantitative","title":null}}},
  {"data":{"name":"k"},
   "mark":{"type":"rule","color":"#737373","strokeWidth":1.5},
   "encoding":{"x":{"field":"i","type":"quantitative","title":null},"y":{"field":"l","type":"quantitative","title":null},"y2":{"field":"h"}}},
  {"data":{"name":"k"},
   "mark":{"type":"bar","size":5,"strokeWidth":1.2},
   "encoding":{
    "x":{"field":"i","type":"quantitative","title":null},
    "y":{"field":"o","type":"quantitative","title":null},"y2":{"field":"c"},
    "color":{"condition":{"test":"datum.c >= datum.o","value":"#3d8b61"},"value":"#d4493a"},
    "stroke":{"condition":{"test":"datum.c >= datum.o","value":"#1b4d31"},"value":"#5b1612"}}},
  {"data":{"name":"tl"},
   "mark":{"type":"line","color":"#000000","strokeWidth":4.5,"strokeCap":"round"},
   "encoding":{"x":{"field":"i","type":"quantitative","title":null},"y":{"field":"p","type":"quantitative","title":null},"detail":{"field":"g"}}},
  {"data":{"name":"dl"},
   "mark":{"type":"line","color":"#000000","strokeWidth":4.5,"strokeCap":"round","strokeDash":[0.1,11]},
   "encoding":{"x":{"field":"i","type":"quantitative","title":null},"y":{"field":"p","type":"quantitative","title":null},"detail":{"field":"g"}}},
  {"data":{"values":[{}]},
   "layer":[
    {"mark":{"type":"rect","color":"#ffffff"},"encoding":{"x":{"datum":1.005},"x2":{"datum":357.98},"y":{"datum":0.6443},"y2":{"datum":0.5804}}},
    {"mark":{"type":"rect","color":"#ffffff"},"encoding":{"x":{"datum":1.005},"x2":{"datum":3.51},"y":{"datum":3.4033},"y2":{"datum":0.5804}}},
    {"mark":{"type":"rect","color":"#ffffff"},"encoding":{"x":{"datum":355.08},"x2":{"datum":357.98},"y":{"datum":3.4033},"y2":{"datum":0.5804}}},
    {"mark":{"type":"text","text":"TV","fontSize":26,"fontWeight":900,"color":"#131722"},"encoding":{"x":{"datum":3.774},"y":{"datum":0.6116}}},
    {"mark":{"type":"text","text":"TradingView","fontSize":22,"color":"#131722"},"encoding":{"x":{"datum":9.706},"y":{"datum":0.6116}}},
    {"mark":{"type":"rule","color":"#e0533f","strokeWidth":1.5,"strokeDash":[2,3.5]},"encoding":{"y":{"datum":2.59994201}}},
    {"mark":{"type":"rect","color":"#e0533f","cornerRadius":3},"encoding":{"x":{"datum":322.12},"x2":{"datum":335.04},"y":{"datum":2.66},"y2":{"datum":2.544}}},
    {"mark":{"type":"rect","color":"#e0533f","cornerRadius":3},"encoding":{"x":{"datum":335.31},"x2":{"datum":354.02},"y":{"datum":2.66},"y2":{"datum":2.4435}}},
    {"mark":{"type":"text","text":"ADAUSD","fontSize":19,"color":"#ffffff","align":"center"},"encoding":{"x":{"datum":328.58},"y":{"datum":2.6}}},
    {"mark":{"type":"text","text":"2.59994201","fontSize":19,"color":"#ffffff"},"encoding":{"x":{"datum":337.94},"y":{"datum":2.6}}},
    {"mark":{"type":"text","text":"02:12:52","fontSize":19,"color":"#fbd5ce"},"encoding":{"x":{"datum":337.94},"y":{"datum":2.495}}},
    {"mark":{"type":"rect","fill":"#f2dfcf","stroke":"#c9c3c2","strokeWidth":2,"cornerRadius":6},"encoding":{"x":{"datum":341.76},"x2":{"datum":348.75},"y":{"datum":3.343},"y2":{"datum":3.178}}},
    {"mark":{"type":"text","text":"USD","fontSize":19,"align":"center"},"encoding":{"x":{"datum":345.19},"y":{"datum":3.259}}},
    {"mark":{"type":"text","text":"Cardano / US Dollar (calculated by TradingView), 4h, BINANCE"},"encoding":{"x":{"datum":5.751},"y":{"datum":3.23}}},
    {"mark":{"type":"text","text":"O"},"encoding":{"x":{"datum":95.79},"y":{"datum":3.23}}},
    {"mark":{"type":"text","text":"2.62611162","color":"#6b1a17"},"encoding":{"x":{"datum":97.89},"y":{"datum":3.23}}},
    {"mark":{"type":"text","text":"H"},"encoding":{"x":{"datum":115.69},"y":{"datum":3.23}}},
    {"mark":{"type":"text","text":"2.63371954","color":"#6b1a17"},"encoding":{"x":{"datum":117.8},"y":{"datum":3.23}}},
    {"mark":{"type":"text","text":"L"},"encoding":{"x":{"datum":135.86},"y":{"datum":3.23}}},
    {"mark":{"type":"text","text":"2.58207052","color":"#6b1a17"},"encoding":{"x":{"datum":137.97},"y":{"datum":3.23}}},
    {"mark":{"type":"text","text":"C"},"encoding":{"x":{"datum":155.63},"y":{"datum":3.23}}},
    {"mark":{"type":"text","text":"2.59994201","color":"#6b1a17"},"encoding":{"x":{"datum":157.74},"y":{"datum":3.23}}},
    {"mark":{"type":"text","text":"−0.02664651 (−1.01%)","color":"#6b1a17"},"encoding":{"x":{"datum":175.4},"y":{"datum":3.23}}},
    {"mark":{"type":"text","text":"Vol"},"encoding":{"x":{"datum":5.751},"y":{"datum":3.075}}},
    {"mark":{"type":"text","text":"3.998M","color":"#ef5350"},"encoding":{"x":{"datum":11.76},"y":{"datum":3.075}}},
    {"mark":{"type":"text","text":"EMA (200, close, 0)"},"encoding":{"x":{"datum":5.751},"y":{"datum":2.927}}},
    {"mark":{"type":"text","text":"2.00383918","color":"#ff9800"},"encoding":{"x":{"datum":34.62},"y":{"datum":2.927}}},
    {"mark":{"type":"text","text":"EMA (50, close, 0)"},"encoding":{"x":{"datum":5.751},"y":{"datum":2.782}}},
    {"mark":{"type":"text","text":"2.54861823","color":"#880e4f"},"encoding":{"x":{"datum":32.88},"y":{"datum":2.782}}},
    {"mark":{"type":"rule","color":"#555555","strokeWidth":2.5},"encoding":{"x":{"datum":3.51},"x2":{"datum":355.08},"y":{"datum":0.7016}}},
    {"mark":{"type":"rule","color":"#555555","strokeWidth":1.5},"encoding":{"x":{"datum":335.44},"y":{"datum":3.4033},"y2":{"datum":0.6443}}}
   ]}
 ]}
]
}
]
}
